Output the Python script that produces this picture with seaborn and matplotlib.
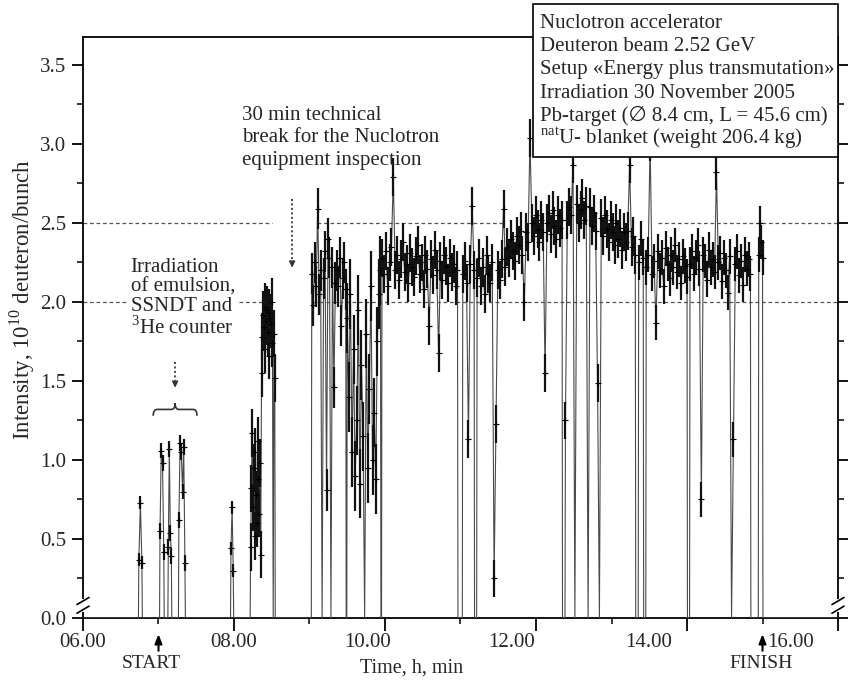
import numpy as np
import pandas as pd
import matplotlib
matplotlib.use('Agg')
import matplotlib.pyplot as plt
from matplotlib.patches import Rectangle, PathPatch
from matplotlib.path import Path
import seaborn as sns

# beam intensity runs: (start hour, end hour), the values read along each run, and its spread
spike_0674 = [0.37, 0.73, 0.35]
spike_0702 = [0.55, 1.06, 0.98, 0.42]
spike_0713 = [0.45, 1.07, 0.54, 0.39]
spike_0727 = [0.62, 1.11, 1.05, 0.80, 1.08, 0.35]
spike_0797 = [0.44, 0.70, 0.30]
block_0822 = [0.45, 0.82, 1.17, 0.70, 0.95, 0.52, 1.05, 0.78, 0.60, 1.12, 0.88, 0.66, 0.98, 0.40,
              1.55, 1.78, 1.92, 1.84, 1.97, 1.70, 1.88, 1.95, 1.81, 1.93, 1.66, 1.90, 1.86, 2.00,
              1.74, 0.0, 1.80, 1.52]
band_0903 = [2.18, 1.98, 2.25, 2.10, 2.59, 2.05, 2.20, 0.0, 2.15, 2.32, 0.81, 2.40, 2.28, 0.0,
             2.22, 1.46, 2.12, 2.20, 2.10, 2.28, 1.85, 2.15, 2.25, 2.08]
band_0950 = [1.90, 1.40, 2.05, 1.05, 1.70, 0.90, 1.25, 1.95, 0.85, 1.60, 1.15, 0.0, 1.80, 0.95,
             1.45, 2.10, 1.00, 1.30, 0.88, 1.75, 2.05, 2.20]
band_0996 = [2.28, 2.18, 2.32, 2.10, 2.25, 2.35, 2.79, 2.20, 2.30, 2.14, 2.27, 2.38, 2.19, 2.24,
             2.12, 2.31, 2.22, 2.16, 2.29, 2.36, 2.18, 2.25, 2.08, 2.30, 2.21, 1.85, 2.27, 2.17,
             2.33, 2.20, 1.68, 2.26, 2.14, 2.30, 2.23, 2.12, 2.28, 2.19, 2.24, 2.10, 2.20]
band_1103 = [2.18, 2.26, 2.12, 1.13, 2.24, 2.61, 2.20]
band_1122 = [2.15, 2.28, 2.10, 2.22, 2.05, 2.30, 2.18, 2.12, 2.25, 0.25, 1.23, 2.20, 2.14, 2.27,
             2.59, 2.22, 2.35, 2.28, 2.40, 2.32, 2.26, 2.42, 2.36, 2.45, 2.30, 2.00, 2.44, 2.38,
             3.04, 2.50, 2.42, 2.55, 2.46, 2.38, 2.52, 2.44, 1.55, 2.50, 2.56, 2.43, 2.58, 2.48,
             2.40, 2.55, 2.47, 2.52]
band_1239 = [1.25, 2.52, 2.60, 2.55, 2.87, 0.0, 2.62, 2.50, 2.58, 2.66, 2.52, 2.61, 0.0, 2.60,
             2.48, 2.56, 2.45, 1.49, 0.0, 2.53, 2.42, 2.55, 2.46, 2.38, 2.52, 2.44, 2.36, 2.50,
             2.40, 2.47, 2.33, 2.44, 2.38, 2.45, 2.87, 2.35, 2.42, 2.30]
band_1336 = [2.25, 2.40, 2.28]
band_1346 = [2.22, 2.30, 3.00, 2.18, 2.26, 1.87, 2.32, 2.20, 2.28, 2.10, 2.34, 2.24, 2.15, 2.30,
             2.22, 2.36, 2.19, 2.27, 2.12, 2.29, 2.23, 2.16]
band_1404 = [2.24, 2.32, 2.18, 2.28, 2.36, 2.21, 0.75, 2.30, 2.26, 2.14, 2.33, 2.22, 2.27, 2.19,
             2.82, 2.25, 2.31, 2.13, 2.28, 2.20, 2.06, 2.29, 0.0, 1.13, 2.24, 2.32, 2.17, 2.26,
             2.11, 2.30, 2.21, 2.27, 2.18]
band_1495 = [2.30, 2.50, 2.38, 2.28]

runs = [
    (6.74, 6.78, spike_0674, 0.04), (7.02, 7.07, spike_0702, 0.05), (7.13, 7.17, spike_0713, 0.05),
    (7.27, 7.35, spike_0727, 0.05), (7.96, 7.99, spike_0797, 0.04), (8.22, 8.54, block_0822, 0.15),
    (9.03, 9.48, band_0903, 0.13), (9.50, 9.94, band_0950, 0.22), (9.96, 10.96, band_0996, 0.12),
    (11.03, 11.18, band_1103, 0.12), (11.22, 12.345, band_1122, 0.12), (12.39, 13.315, band_1239, 0.12),
    (13.36, 13.42, band_1336, 0.11), (13.46, 14.00, band_1346, 0.11), (14.04, 14.84, band_1404, 0.11),
    (14.95, 15.00, band_1495, 0.11),
]

info_lines = [
    'Nuclotron accelerator',
    'Deuteron beam 2.52 GeV',
    'Setup «Energy plus transmutation»',
    'Irradiation 30 November 2005',
    'Pb-target (\u2205 8.4 cm, L = 45.6 cm)',
    r'$^{\mathrm{nat}}$U- blanket (weight 206.4 kg)',
]
x_label_pos = [6.0, 8.0, 9.77, 11.67, 13.49, 15.37]
x_label_txt = ['06.00', '08.00', '10.00', '12.00', '14.00', '16.00']

# build the time series, beam off (0) between runs
t_all, v_all, e_all = [6.0], [0.0], [0.0]
for t0, t1, vals, err in runs:
    ts = np.linspace(t0, t1, len(vals))
    t_all += [t0 - 0.006] + list(ts) + [t1 + 0.006]
    v_all += [0.0] + list(vals) + [0.0]
    e_all += [0.0] + [err] * len(vals) + [0.0]
t_all.append(16.0)
v_all.append(0.0)
e_all.append(0.0)
df = pd.DataFrame({'t': t_all, 'v': v_all, 'e': e_all})
pts = df[df['v'] > 0]

sns.set_theme(style='ticks')
fams = ['Liberation Serif', 'DejaVu Serif', 'DejaVu Sans']
plt.rcParams['font.family'] = fams
plt.rcParams['mathtext.fontset'] = 'custom'
plt.rcParams['mathtext.rm'] = 'Liberation Serif'

fig = plt.figure(figsize=(8.48, 6.81), dpi=100)
ax = fig.add_axes([83 / 848, 63 / 681, 755 / 848, 581 / 681])

# reference levels
dash = (0, (3, 2.2))
ax.hlines([2.5] * 3, [6.0, 9.1, 13.62], [8.5, 11.57, 16.0], colors='#555555', lw=0.9, linestyles=dash, zorder=1)
ax.hlines([2.0] * 2, [6.0, 9.05], [8.5, 16.0], colors='#555555', lw=0.9, linestyles=dash, zorder=1)

sns.lineplot(data=df, x='t', y='v', sort=False, estimator=None, color='#4a4a4a', lw=0.8, ax=ax, zorder=3)
ax.vlines(pts['t'], (pts['v'] - pts['e']).clip(lower=0), pts['v'] + pts['e'], colors='#121212', lw=1.6, zorder=3)
sns.scatterplot(data=pts, x='t', y='v', marker='+', s=20, color='black', linewidth=0.8, ax=ax, zorder=4)

ax.set_xlim(6, 16)
ax.set_ylim(0, 3.677)
ax.set_xlabel('')
ax.set_ylabel('')

ax.set_xticks(np.arange(6, 17, 2))
ax.set_xticks(np.arange(7, 16, 2), minor=True)
ax.set_xticklabels([])
ax.set_yticks(np.arange(0, 3.6, 0.5))
ax.set_yticks(np.arange(0.25, 3.6, 0.5), minor=True)
ax.set_yticklabels(['%.1f' % v for v in np.arange(0, 3.6, 0.5)], fontsize=15)
ax.tick_params(axis='y', which='major', length=8, width=1.3, direction='out', pad=4, right=True, color='black')
ax.tick_params(axis='y', which='minor', length=4, width=1.1, direction='out', right=True, color='black')
ax.tick_params(axis='x', which='major', length=9, width=1.3, direction='out', color='black')
ax.tick_params(axis='x', which='minor', length=4, width=1.1, direction='out', color='black')
for sp in ax.spines.values():
    sp.set_visible(True)
    sp.set_linewidth(1.3)
    sp.set_color('black')

# x tick labels as printed (shifted in the original)
for xp, lab in zip(x_label_pos, x_label_txt):
    ax.text(xp, -0.158, lab, ha='center', va='center', fontsize=15, clip_on=False)
ax.text(10.35, -0.316, 'Time, h, min', ha='center', va='center', fontsize=14.5, clip_on=False)
ax.text(6.91, -0.29, 'START', ha='center', va='center', fontsize=14, clip_on=False)
ax.text(14.98, -0.29, 'FINISH', ha='center', va='center', fontsize=14, clip_on=False)
for xa in [7.0, 15.0]:
    ax.annotate('', xy=(xa, -0.085), xytext=(xa, -0.225), annotation_clip=False,
                arrowprops=dict(arrowstyle='-|>,head_width=0.18,head_length=0.45', color='black', lw=1.5))

fig.text(22 / 848, 1 - 300 / 681, r'Intensity, 10$^{\mathrm{10}}$ deuteron/bunch',
         rotation=90, ha='center', va='center', fontsize=16.5)

# axis break marks
for xs in [0.0, 1.0]:
    tr = ax.get_yaxis_transform()
    ax.plot([xs, xs], [0.05, 0.11], transform=tr, color='white', lw=3, clip_on=False, zorder=6)
    ax.plot([xs - 0.008, xs + 0.008], [0.03, 0.075], transform=tr, color='black', lw=1.2, clip_on=False, zorder=7)
    ax.plot([xs - 0.008, xs + 0.008], [0.085, 0.13], transform=tr, color='black', lw=1.2, clip_on=False, zorder=7)

# annotations
ax.text(8.11, 3.24, '30 min technical\nbreak for the Nuclotron\nequipment inspection',
        ha='left', va='top', fontsize=15, linespacing=1.24, zorder=5)
ax.text(6.63, 2.28, 'Irradiation\nof emulsion,\nSSNDT and\n$^{\\mathrm{3}}$He counter',
        ha='left', va='top', fontsize=15, linespacing=1.03, zorder=5,
        bbox=dict(facecolor='white', edgecolor='none', pad=1))
for xa, ya0, ya1 in [(8.77, 2.65, 2.2), (7.22, 1.62, 1.44)]:
    ax.plot([xa, xa], [ya0, ya1 + 0.05], ls=(0, (1, 1.3)), lw=1.4, color='#444444', zorder=5)
    ax.annotate('', xy=(xa, ya1), xytext=(xa, ya1 + 0.06),
                arrowprops=dict(arrowstyle='-|>,head_width=0.15,head_length=0.3', color='#333333', lw=1))

# curly brace over the first irradiation spikes
bx0, bx1, by, bh, bq = 6.93, 7.51, 1.32, 0.04, 0.05
bxm = (bx0 + bx1) / 2
verts = [(bx0, by - bh), (bx0, by), (bx0 + bq, by), (bxm - bq, by), (bxm, by), (bxm, by + bh),
         (bxm, by), (bxm + bq, by), (bx1 - bq, by), (bx1, by), (bx1, by - bh)]
codes = [Path.MOVETO, Path.CURVE3, Path.CURVE3, Path.LINETO, Path.CURVE3, Path.CURVE3,
         Path.CURVE3, Path.CURVE3, Path.LINETO, Path.CURVE3, Path.CURVE3]
ax.add_patch(PathPatch(Path(verts, codes), fill=False, lw=1.2, edgecolor='#333333', zorder=5))

# info box
fig.add_artist(Rectangle((533 / 848, 1 - 157 / 681), 305 / 848, 153 / 681, transform=fig.transFigure,
                         facecolor='white', edgecolor='black', lw=1.2, zorder=10))
for i, line in enumerate(info_lines):
    fig.text(540 / 848, 1 - (28 + 23.2 * i) / 681, line, ha='left', va='baseline', fontsize=15,
             family=fams, zorder=11)

fig.savefig('out.png', dpi=100)
